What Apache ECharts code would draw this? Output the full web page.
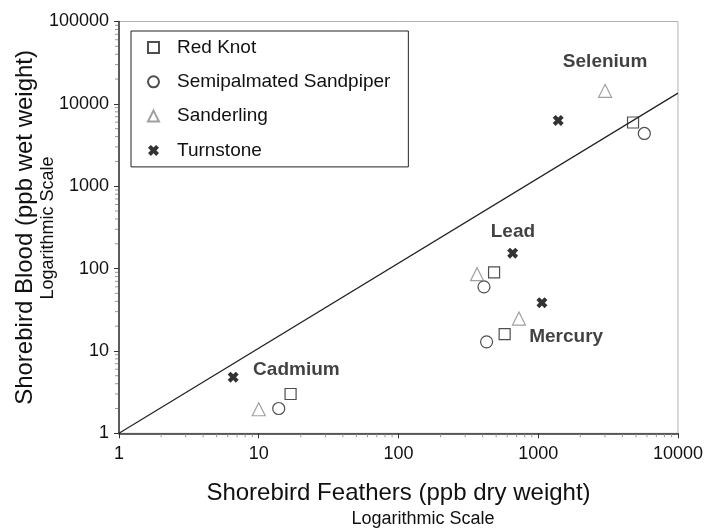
<!DOCTYPE html>
<html lang="en">
<head>
    <meta charset="UTF-8">
    <title>Shorebird metals</title>
    <script src="https://cdn.jsdelivr.net/npm/echarts@6/dist/echarts.min.js"></script>
</head>
<body style="margin:0">
    <div id="main" style="width: 706px;height: 529px"></div>
    <script>
        // elements, in the order the points are listed below
        var elements = ['Cadmium', 'Lead', 'Mercury', 'Selenium'];

        // feathers (x, ppb dry) and blood (y, ppb wet) per species
        var redKnotFeathers = [16.9, 483, 575, 4770];
        var redKnotBlood = [3.0, 90, 16, 5940];
        var sandpiperFeathers = [13.9, 409, 427, 5745];
        var sandpiperBlood = [2.0, 60, 12.9, 4370];
        var sanderlingFeathers = [10, 365, 728, 3010];
        var sanderlingBlood = [1.96, 85.5, 24.7, 14400];
        var turnstoneFeathers = [6.56, 656, 1063, 1390];
        var turnstoneBlood = [4.8, 154, 38.6, 6290];

        // reference line
        var lineFeathers = [1, 10000];
        var lineBlood = [1, 13500];

        // where the element names sit
        var labelFeathers = [18.6, 659, 1585, 3010];
        var labelBlood = [5.88, 279, 14.9, 32500];

        var xMinorTicks = [2, 3, 4, 5, 6, 7, 8, 9, 20, 30, 40, 50, 60, 70, 80, 90,
            200, 300, 400, 500, 600, 700, 800, 900, 2000, 3000, 4000, 5000, 6000, 7000, 8000, 9000];
        var yMinorTicks = xMinorTicks.concat([20000, 30000, 40000, 50000, 60000, 70000, 80000, 90000]);

        var font = 'Liberation Sans';
        // bold x for the turnstone
        var crossPath = 'path://M0,2.6 L2.6,0 L5,2.4 L7.4,0 L10,2.6 L7.6,5 L10,7.4 L7.4,10 L5,7.6 L2.6,10 L0,7.4 L2.4,5 Z';

        function pairs(xs, ys) {
            return xs.map(function (x, i) { return [x, ys[i]]; });
        }

        function hollow(name, symbol, size, color, xs, ys) {
            return {
                name: name,
                type: 'scatter',
                symbol: symbol,
                symbolSize: size,
                itemStyle: { color: 'transparent', borderColor: color, borderWidth: 1.2 },
                data: pairs(xs, ys),
                z: 5
            };
        }

        var myChart = echarts.init(document.getElementById('main'));

        myChart.setOption({
            animation: false,
            textStyle: { fontFamily: font },
            grid: {
                left: 119, right: 27, top: 21.5, bottom: 95.7,
                show: true, borderColor: '#b0b0b0', borderWidth: 1
            },
            legend: {
                orient: 'vertical',
                left: 131,
                top: 31,
                padding: [7, 18, 7, 16],
                itemGap: 15.3,
                itemWidth: 11,
                itemHeight: 11,
                borderColor: '#222',
                borderWidth: 1,
                textStyle: { fontSize: 19, color: '#111', padding: [0, 0, 0, 13] },
                data: ['Red Knot', 'Semipalmated Sandpiper', 'Sanderling', 'Turnstone']
            },
            xAxis: {
                type: 'log',
                logBase: 10,
                min: 1,
                max: 10000,
                name: 'Shorebird Feathers (ppb dry weight)',
                nameLocation: 'middle',
                nameGap: 48,
                nameTextStyle: { fontSize: 24, color: '#111' },
                axisLine: { lineStyle: { color: '#333', width: 1.5 } },
                axisTick: { length: 5, lineStyle: { color: '#333' } },
                axisLabel: {
                    fontSize: 18, color: '#111', margin: 12,
                    formatter: function (v) { return String(Math.round(v)); }
                },
                splitLine: { show: false }
            },
            yAxis: {
                type: 'log',
                logBase: 10,
                min: 1,
                max: 100000,
                name: 'Shorebird Blood (ppb wet weight)',
                nameLocation: 'middle',
                nameGap: 82,
                nameTextStyle: { fontSize: 24, color: '#111' },
                axisLine: { lineStyle: { color: '#333', width: 1.5 } },
                axisTick: { length: 5, lineStyle: { color: '#333' } },
                axisLabel: {
                    fontSize: 18, color: '#111', margin: 10,
                    formatter: function (v) { return String(Math.round(v)); }
                },
                splitLine: { show: false }
            },
            graphic: [
                {
                    type: 'text', x: 423, y: 519,
                    style: { text: 'Logarithmic Scale', fontSize: 18, fontFamily: font, fill: '#111', align: 'center', verticalAlign: 'middle' }
                },
                {
                    type: 'text', x: 48, y: 228, rotation: Math.PI / 2,
                    style: { text: 'Logarithmic Scale', fontSize: 18, fontFamily: font, fill: '#111', align: 'center', verticalAlign: 'middle' }
                }
            ],
            series: [
                {
                    type: 'line',
                    data: pairs(lineFeathers, lineBlood),
                    symbol: 'none',
                    lineStyle: { color: '#222', width: 1.2 },
                    silent: true,
                    z: 2
                },
                hollow('Red Knot', 'rect', 11, '#222', redKnotFeathers, redKnotBlood),
                hollow('Semipalmated Sandpiper', 'circle', 12, '#222', sandpiperFeathers, sandpiperBlood),
                hollow('Sanderling', 'triangle', 13, '#888', sanderlingFeathers, sanderlingBlood),
                {
                    name: 'Turnstone',
                    type: 'scatter',
                    symbol: crossPath,
                    symbolSize: 11,
                    itemStyle: { color: '#000' },
                    data: pairs(turnstoneFeathers, turnstoneBlood),
                    z: 6
                },
                {
                    type: 'scatter',
                    symbolSize: 0,
                    silent: true,
                    data: elements.map(function (name, i) {
                        return { name: name, value: [labelFeathers[i], labelBlood[i]] };
                    }),
                    label: {
                        show: true,
                        position: 'inside',
                        formatter: '{b}',
                        fontSize: 19,
                        fontWeight: 'bold',
                        color: '#111'
                    }
                },
                {
                    // minor ticks on the x axis
                    type: 'custom',
                    silent: true,
                    data: xMinorTicks.map(function (v) { return [v, 1]; }),
                    renderItem: function (params, api) {
                        var p = api.coord([api.value(0), 1]);
                        return {
                            type: 'line',
                            shape: { x1: p[0], y1: p[1] + 1, x2: p[0], y2: p[1] + 4 },
                            style: { stroke: '#999', lineWidth: 1 }
                        };
                    }
                },
                {
                    // minor ticks on the y axis
                    type: 'custom',
                    silent: true,
                    data: yMinorTicks.map(function (v) { return [1, v]; }),
                    renderItem: function (params, api) {
                        var p = api.coord([1, api.value(1)]);
                        return {
                            type: 'line',
                            shape: { x1: p[0] - 1, y1: p[1], x2: p[0] - 4, y2: p[1] },
                            style: { stroke: '#999', lineWidth: 1 }
                        };
                    }
                }
            ]
        });
    </script>
</body>
</html>
